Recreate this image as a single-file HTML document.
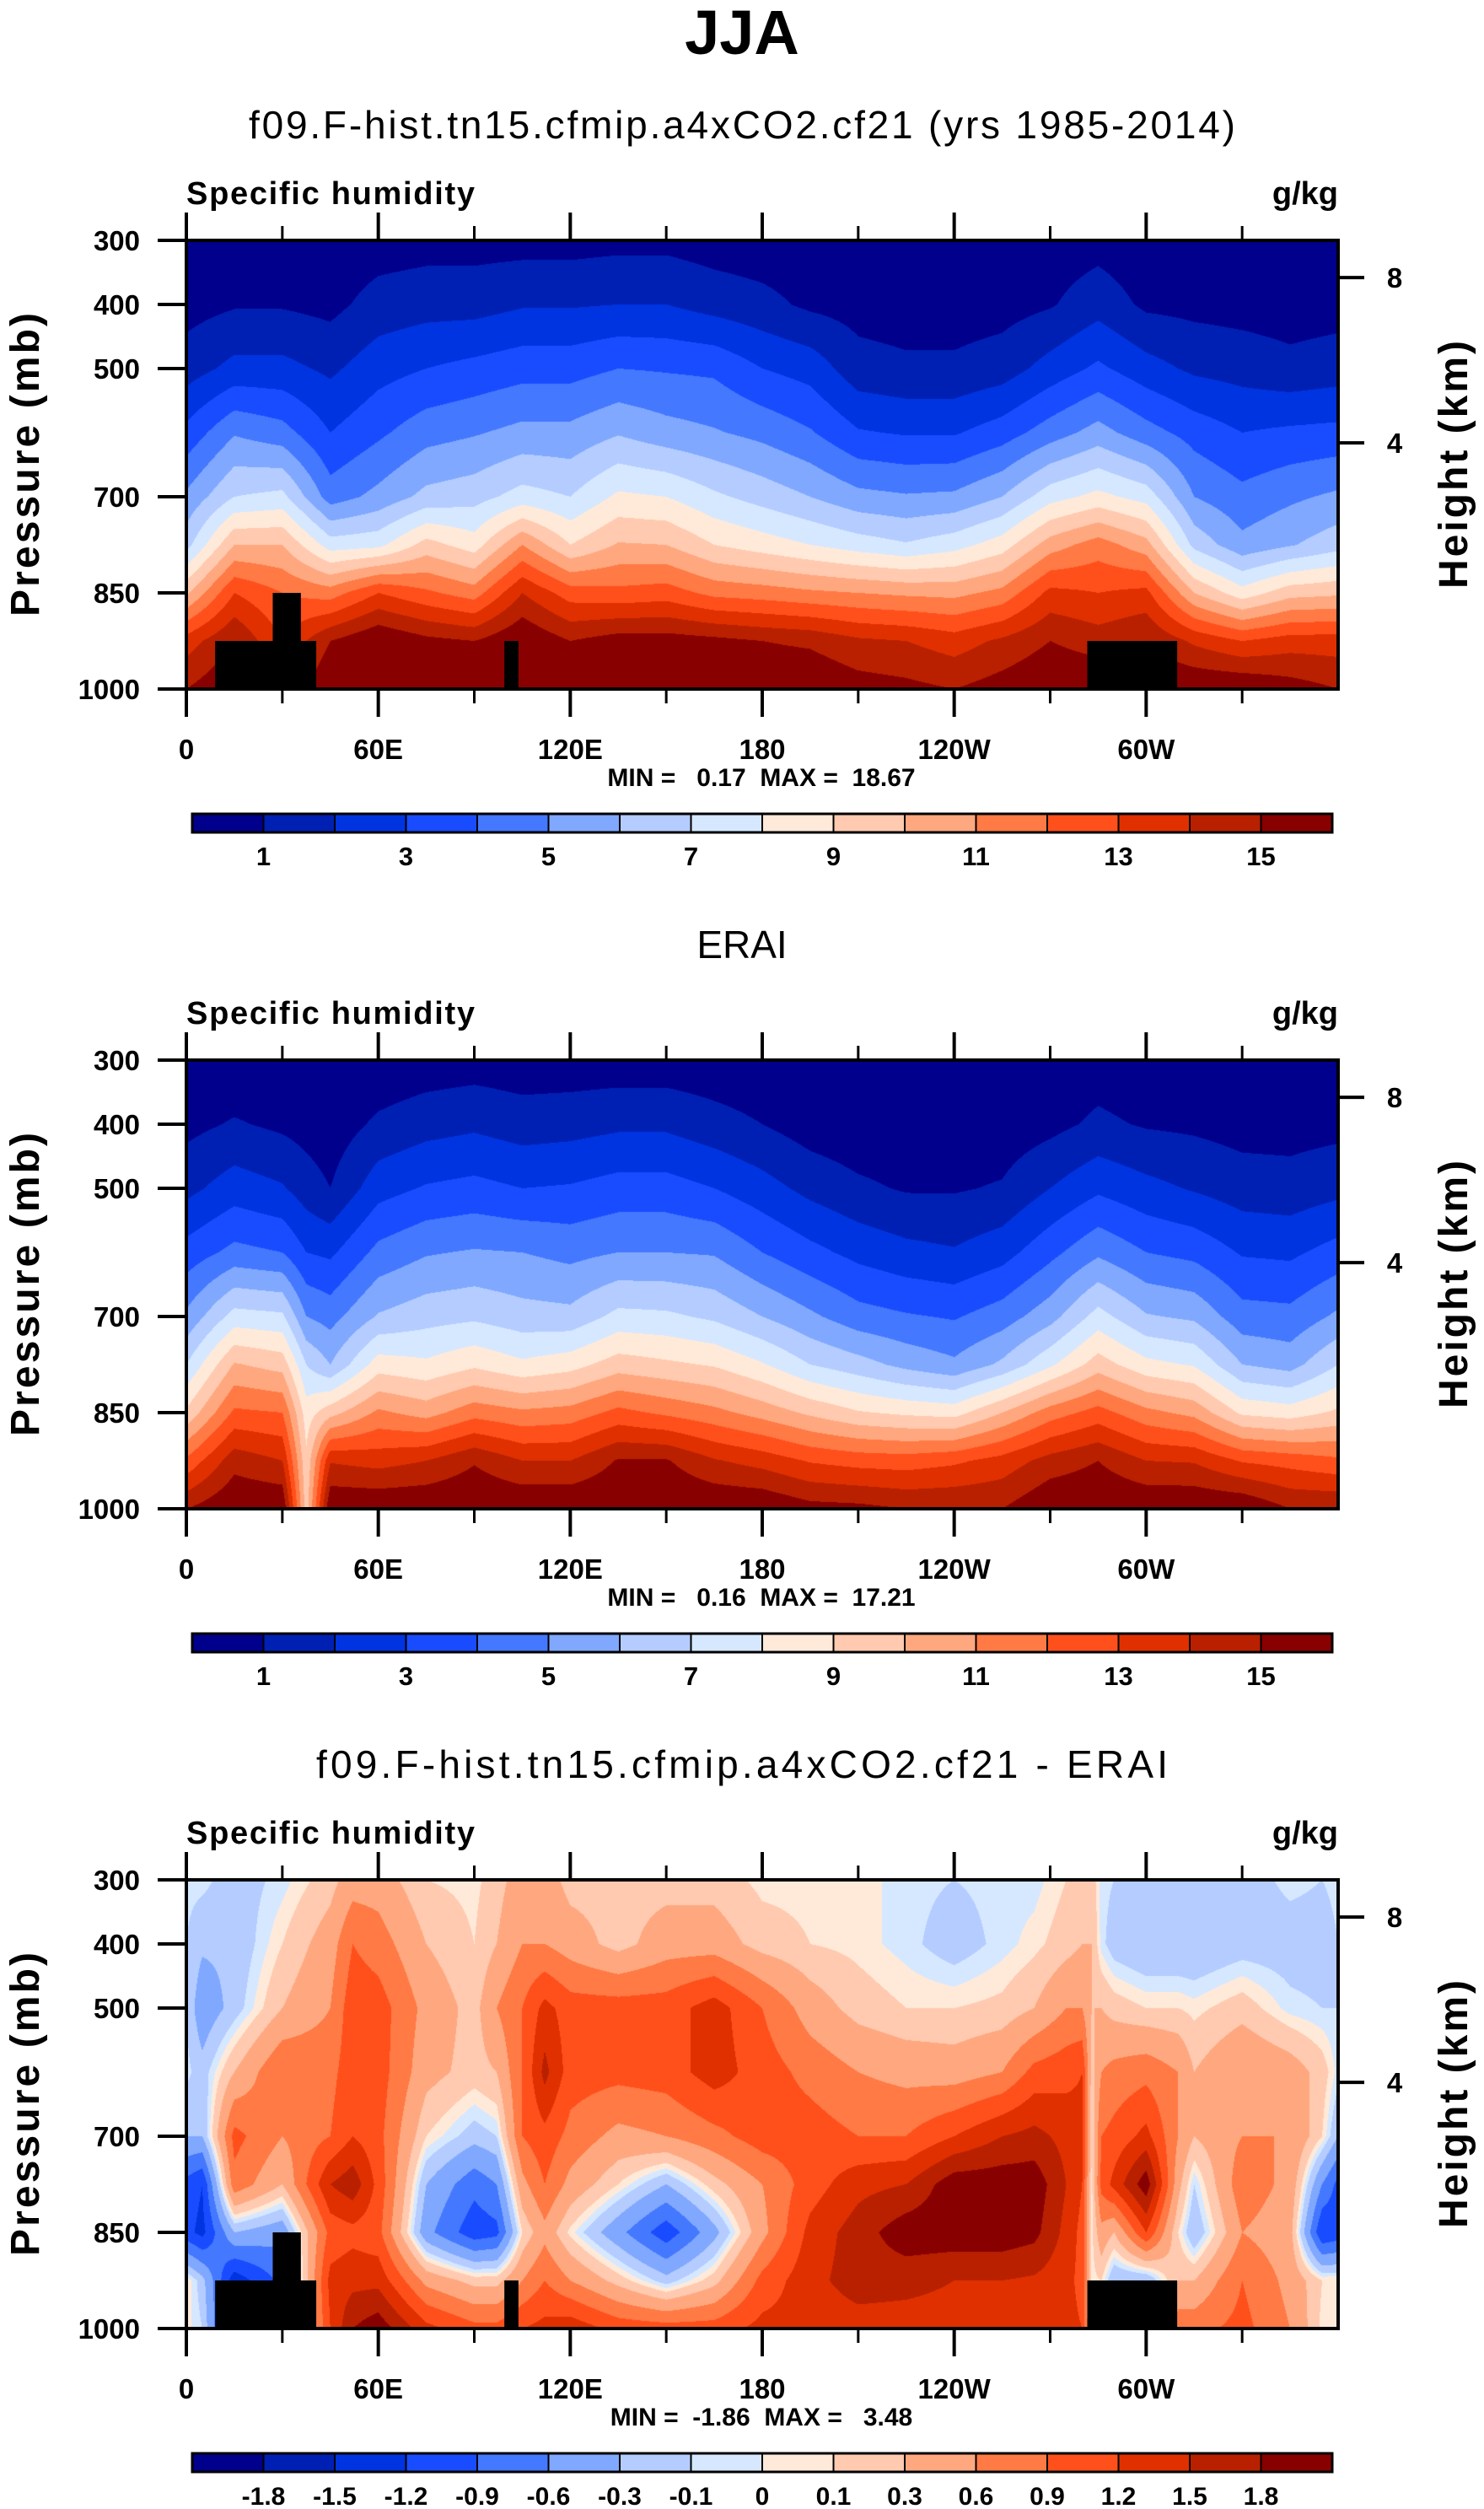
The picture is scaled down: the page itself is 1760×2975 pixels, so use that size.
<!DOCTYPE html>
<html><head><meta charset="utf-8">
<style>
html,body{margin:0;padding:0;background:#fff;}
#wrap{position:relative;width:1760px;height:2975px;overflow:hidden;}
canvas{position:absolute;}
svg{position:absolute;left:0;top:0;}
text{font-family:"Liberation Sans",Arial,sans-serif;fill:#000;}
</style></head>
<body>
<div id="wrap">
<canvas id="c0" width="1366" height="532" style="left:221px;top:285px"></canvas>
<canvas id="c1" width="1366" height="532" style="left:221px;top:1257px"></canvas>
<canvas id="c2" width="1366" height="532" style="left:221px;top:2229px"></canvas>
<svg id="svg" width="1760" height="2975" xmlns="http://www.w3.org/2000/svg">
<text x="880" y="64" font-size="74" font-weight="bold" text-anchor="middle">JJA</text>
</svg>
</div>
<script>
// ---------- data ----------
const plev = [300,400,500,600,700,775,850,925,1000];
const lonsA = [0,15,30,45,60,75,90,105,120,135,150,165,180,195,210,225,240,255,270,285,300,315,330,345,360];
const modelQ = [
[.4,.6,1.5,3.3,5.2,6.6,9.8,13.5,15],
[.4,.9,2.3,4.9,7,10,13,15,16],
[.4,.9,2.3,4.4,7.3,10,12,13,14],
[.3,.7,1.8,3.0,4.5,7.5,11.5,15,16],
[.5,1.4,2.6,3.8,5.3,7.7,13,16,16],
[.6,1.6,3,4.6,6.3,9.4,12.2,15.3,16],
[.6,1.6,3.3,4.9,6.6,8.5,11.5,15,16],
[.6,1.9,3.6,5.3,7.4,11,14,16,16],
[.6,1.9,3.6,5.3,7,9,12.5,15,16],
[.7,2,4,5.9,8.2,10.1,12.3,15.5,16],
[.7,2,3.9,5.4,8,10,12.5,15.5,16],
[.5,1.6,3.8,5.1,7.2,9,11.7,15.3,16],
[.4,1.3,3,4.7,6.6,8.5,11.5,15,16],
[.4,.8,2.6,4.1,6,8,11.2,14.8,16],
[.3,.6,1.4,3.1,5.3,7.5,11,14.2,15.5],
[.3,.5,1.2,2.9,5.1,7.1,10.8,14,15.3],
[.3,.5,1.2,2.9,5.2,7.6,10.7,13.5,15],
[.3,.6,1.5,3.5,6,8.5,11.3,14.2,15.5],
[.4,.9,2.4,4.5,7.6,10.5,13.3,15,16],
[.6,1.6,3.2,5.4,8.3,11.5,13,14.5,16],
[.3,.8,2.4,4.4,7.6,10.4,13.3,15,16],
[.3,.7,1.8,3.6,5,6.7,10,13.8,16],
[.4,.6,1.6,3,4.3,5.3,8.4,13,16],
[.3,.5,1.3,3.2,4.8,5.9,9.6,13.5,15.5],
[.4,.6,1.5,3.3,5.2,6.6,9.8,13.5,15]];
const lonsB = [0,15,30,37.5,45,60,75,90,105,120,135,150,165,180,195,210,225,240,255,270,285,300,315,330,345,360];
const eraiQ = [
[.3,.7,1.7,3.4,5.2,7,9.2,12.2,15],
[.2,1.1,2.5,4.3,7.4,10.1,12.2,14.6,16],
[.3,.8,2.1,4,7.2,9.6,12,14,16],
[.3,.6,1.5,3,5,7,8.5,9.2,9.5],
[.1,.4,1,2.8,4.6,6,9.6,13.9,16],
[.2,1.2,2.6,4.3,6.1,8.5,11.2,13.6,16],
[.4,1.6,3.1,4.9,6.6,8.2,10.6,14,16],
[.5,1.8,3.3,5.1,6.8,8.8,11.6,14.9,16],
[.4,1.5,3,5,6.4,8.2,11.2,14,16],
[.4,1.6,3.1,4.7,6.3,8.6,11.4,14,16],
[.4,1.8,3.4,5,7.3,9.5,12.3,15.1,16],
[.4,1.8,3.4,5,7.2,9.2,11.8,15.1,16],
[.3,1.4,3,4.9,6.8,8.9,11.3,14.1,16],
[.2,1,2.4,4,6,8.1,10.6,13.6,16],
[.1,.5,1.7,3.3,5.2,7,9.8,12.9,15.4],
[.1,.3,1.2,2.7,4.4,6.4,9.1,12.6,15.3],
[.1,.3,.9,2.3,4.1,5.7,8.8,12.5,15],
[.1,.3,.9,2.1,3.9,5.2,8.6,12.8,15],
[.1,.4,1.1,2.6,4.5,6.2,10,13.4,15],
[.3,.7,2,3.7,5.6,7.8,11.5,14.4,16],
[.5,1.2,2.8,4.8,7.4,9.5,12.4,15,16],
[.3,.9,2.3,4,6.1,8.3,11.3,14,16],
[.2,.8,1.9,3.7,5.8,7.9,10.7,13.9,16],
[.1,.6,1.5,2.9,4.4,6,8.8,12.9,16],
[.1,.6,1.4,2.8,4.3,5.6,8.5,12.6,15],
[.3,.7,1.7,3.4,5.2,7,9.2,12.2,15]];
const lonsC = [0,5,15,30,45,52,60,75,90,97,105,112,120,135,150,165,180,195,210,225,240,255,265,275,280,283,286,290,300,310,315,330,345,355,360];
const diffQ = [
[-.05,-.1,-.1,-.05,-.3,-1.0,-1.1,.1,.05],
[-.05,-.25,-.5,-.2,-.3,-1.2,-1.3,-.2,-.1],
[-.2,-.25,-.2,.3,1.0,.8,-.3,-1.4,-1.4],
[-.05,.1,.3,.9,.6,.3,-.5,-.8,-.8],
[.2,.45,.6,.8,.9,1.5,1.0,1.3,1.2],
[.45,.9,1.1,1.1,1.2,1.7,1.1,1.4,1.8],
[.45,.75,1.05,1.05,1.0,1.1,1.0,1.4,2.0],
[.1,.3,.5,.4,.1,-.3,-.5,.5,1.3],
[.05,.1,.2,.2,-.2,-.8,-1.1,.2,1.0],
[.2,.3,.6,.3,-.1,-.6,-1.0,.2,1.0],
[.45,.6,.9,.9,.9,.5,.1,.6,1.2],
[.45,.6,1.3,1.6,1.1,.9,.5,.9,1.3],
[.2,.45,1.05,1.05,.8,.5,.05,.6,1.4],
[.2,.2,1.05,1.0,.5,.1,-.5,.2,1.1],
[.2,.45,1.05,1.05,.6,-.3,-1.1,-.2,1.05],
[.2,.45,1.35,1.35,.8,.2,-.4,.2,1.05],
[.05,.2,.9,1.05,1.05,.6,.5,1.0,1.3],
[.05,.1,.45,.8,1.05,1.05,1.3,1.4,1.3],
[.05,.05,.2,.6,.9,1.4,1.65,1.65,1.35],
[-.05,-.05,.1,.5,.9,1.5,2.0,1.6,1.35],
[-.1,-.2,.1,.45,1.2,2.0,2.0,1.5,1.35],
[-.05,-.05,.15,.6,1.5,2.0,2.0,1.5,1.35],
[-.05,.05,.3,1.0,1.6,2.0,1.9,1.45,1.35],
[.1,.2,.6,1.1,1.4,1.5,1.4,1.3,1.3],
[.2,.3,.6,1.2,1.3,1.2,1.1,1.1,1.2],
[.2,.3,.3,.2,.1,.05,.05,.05,.1],
[-.05,-.05,.3,.6,.9,1.0,.5,.1,-.2],
[-.1,-.2,.2,.7,1.0,1.3,.3,-.3,-.5],
[-.2,-.3,.1,.8,1.3,2.0,1.2,-.3,-.5],
[-.1,-.3,.1,.6,.6,.4,.1,.3,.8],
[-.2,-.3,.05,.3,.3,-.1,-.3,.3,.8],
[-.2,-.2,.2,.6,.6,.8,.6,.9,1.0],
[-.05,-.2,-.05,.45,.6,.5,.4,.5,.6],
[-.1,-.2,-.1,.2,.1,-.6,-1.2,.1,.05],
[-.05,-.1,-.1,-.05,-.3,-1.0,-1.1,.1,.05]];
const levelsQ = [1,2,3,4,5,6,7,8,9,10,11,12,13,14,15];
const levelsD = [-1.8,-1.5,-1.2,-0.9,-0.6,-0.3,-0.1,0,0.1,0.3,0.6,0.9,1.2,1.5,1.8];
const labelsQ = ["1","3","5","7","9","11","13","15"];
const labelsD = ["-1.8","-1.5","-1.2","-0.9","-0.6","-0.3","-0.1","0","0.1","0.3","0.6","0.9","1.2","1.5","1.8"];
const colors = ["#00008c","#0020b4","#0034e0","#1a4cff","#4478ff","#80a8ff","#b4ccff","#d6e8ff","#ffeada","#ffcab0","#ffa880","#ff7a44","#ff501c","#e03000","#b82000","#880000"];
const landLon0 = [9,27,99.4,281.6];
const landLon1 = [40.6,35.8,103.8,309.7];
const landTop = [925,850,925,925];
const pTicks = [300,400,500,700,850,1000];
const hTicks = [8,4];
const hTickP = [358,616];
const lonTicks = [0,60,120,180,240,300];
const lonLabels = ["0","60E","120E","180","120W","60W"];
const minorLon = [30,90,150,210,270,330];

// ---------- helpers ----------
const X0=221,W=1366,H=532;
function xOf(lon){return X0+lon/360*W;}
function yOf(p,off){return 285+off+(p-300)/700*H;}
const NS="http://www.w3.org/2000/svg";
const svg=document.getElementById('svg');
function mk(tag,attrs){const e=document.createElementNS(NS,tag);for(const k in attrs)e.setAttribute(k,attrs[k]);svg.appendChild(e);return e;}
function seg(arr,v){let i=0;while(i<arr.length-2&&v>arr[i+1])i++;const t=(v-arr[i])/(arr[i+1]-arr[i]);return [i,Math.max(0,Math.min(1,t))];}
function hex(c){return [parseInt(c.slice(1,3),16),parseInt(c.slice(3,5),16),parseInt(c.slice(5,7),16)];}
const rgb=colors.map(hex);

function drawField(id,lons,vals,levels){
  const cv=document.getElementById(id);const ctx=cv.getContext('2d');
  const img=ctx.createImageData(W,H);const d=img.data;
  const ps=[];for(let py=0;py<H;py++)ps.push(seg(plev,300+(py+0.5)/H*700));
  for(let px=0;px<W;px++){
    const [i,tx]=seg(lons,(px+0.5)/W*360);
    const a=vals[i],b=vals[i+1];
    for(let py=0;py<H;py++){
      const [j,ty]=ps[py];
      const v0=a[j]*(1-ty)+a[j+1]*ty, v1=b[j]*(1-ty)+b[j+1]*ty;
      const v=v0*(1-tx)+v1*tx;
      let k=0;while(k<levels.length&&v>=levels[k])k++;
      const c=rgb[k];const o=(py*W+px)*4;
      d[o]=c[0];d[o+1]=c[1];d[o+2]=c[2];d[o+3]=255;
    }
  }
  ctx.putImageData(img,0,0);
}
drawField('c0',lonsA,modelQ,levelsQ);
drawField('c1',lonsB,eraiQ,levelsQ);
drawField('c2',lonsC,diffQ,levelsD);

const offs=[0,972,1944];
const subtitles=["f09.F-hist.tn15.cfmip.a4xCO2.cf21 (yrs 1985-2014)","ERAI","f09.F-hist.tn15.cfmip.a4xCO2.cf21 - ERAI"];
const subLen=[1170,0,1010];
const minmax=["MIN =   0.17  MAX =  18.67","MIN =   0.16  MAX =  17.21","MIN =  -1.86  MAX =   3.48"];
const hasLand=[true,false,true];

offs.forEach((off,pi)=>{
  let t=mk('text',{x:880,y:164+off,'font-size':46,'text-anchor':'middle'});
  if(subLen[pi])t.setAttribute('textLength',subLen[pi]);
  t.textContent=subtitles[pi];
  
  
  t=mk('text',{x:221,y:242+off,'font-size':38,'font-weight':'bold',textLength:342});
  t.textContent="Specific humidity";
  
  
  t=mk('text',{x:1587,y:242+off,'font-size':38,'font-weight':'bold','text-anchor':'end'});
  t.textContent="g/kg";
  
  
  if(hasLand[pi]){
    for(let k=0;k<landLon0.length;k++){
      const r=mk('rect',{x:xOf(landLon0[k]),y:yOf(landTop[k],off),width:xOf(landLon1[k])-xOf(landLon0[k]),height:yOf(1000,off)-yOf(landTop[k],off),fill:'#000'});
      
      
    }
  }
  const b=mk('rect',{x:X0,y:285+off,width:W,height:H,fill:'none',stroke:'#000','stroke-width':4});
  
  
  lonTicks.forEach((lon,k)=>{
    const x=xOf(lon);
    mk('line',{x1:x,x2:x,y1:252+off,y2:285+off,stroke:'#000','stroke-width':4});
    mk('line',{x1:x,x2:x,y1:817+off,y2:850+off,stroke:'#000','stroke-width':4});
    const tl=mk('text',{x:x,y:900+off,'font-size':33,'font-weight':'bold','text-anchor':'middle'});
    tl.textContent=lonLabels[k];
    
    
  });
  minorLon.forEach(lon=>{
    const x=xOf(lon);
    mk('line',{x1:x,x2:x,y1:268+off,y2:285+off,stroke:'#000','stroke-width':3});
    mk('line',{x1:x,x2:x,y1:817+off,y2:834+off,stroke:'#000','stroke-width':3});
  });
  pTicks.forEach(p=>{
    const y=yOf(p,off);
    mk('line',{x1:187,x2:221,y1:y,y2:y,stroke:'#000','stroke-width':4});
    const tl=mk('text',{x:166,y:y+12,'font-size':33,'font-weight':'bold','text-anchor':'end'});
    tl.textContent=String(p);
    
    
  });
  hTicks.forEach((h,k)=>{
    const y=yOf(hTickP[k],off);
    mk('line',{x1:1587,x2:1618,y1:y,y2:y,stroke:'#000','stroke-width':4});
    const tl=mk('text',{x:1654,y:y+12,'font-size':33,'font-weight':'bold','text-anchor':'middle'});
    tl.textContent=String(h);
    
    
  });
  t=mk('text',{x:46,y:551+off,'font-size':48,'font-weight':'bold','text-anchor':'middle',textLength:360,transform:`rotate(-90 46 ${551+off})`});
  t.textContent="Pressure (mb)";
  
  
  t=mk('text',{x:1740,y:551+off,'font-size':48,'font-weight':'bold','text-anchor':'middle',textLength:294,transform:`rotate(-90 1740 ${551+off})`});
  t.textContent="Height (km)";
  
  
  t=mk('text',{x:903,y:932+off,'font-size':30,'font-weight':'bold','text-anchor':'middle'});
  t.setAttribute('style','white-space:pre');
  t.textContent=minmax[pi];
  
  
  const cx0=228,cw=(1580-228)/16,cy=965+off,ch=22;
  colors.forEach((c,k)=>{
    const r=mk('rect',{x:cx0+k*cw,y:cy,width:cw,height:ch,fill:c,stroke:'#000','stroke-width':2});
    
    
  });
  mk('rect',{x:cx0,y:cy,width:cw*16,height:ch,fill:'none',stroke:'#000','stroke-width':3});
  if(pi<2){
    labelsQ.forEach((lab,k)=>{
      const tl=mk('text',{x:cx0+(1+2*k)*cw,y:1026+off,'font-size':31,'font-weight':'bold','text-anchor':'middle'});
      tl.textContent=lab;
      
      
    });
  } else {
    labelsD.forEach((lab,k)=>{
      const tl=mk('text',{x:cx0+(1+k)*cw,y:1026+off,'font-size':30,'font-weight':'bold','text-anchor':'middle'});
      tl.textContent=lab;
      
      
    });
  }
});
</script>
</body></html>
